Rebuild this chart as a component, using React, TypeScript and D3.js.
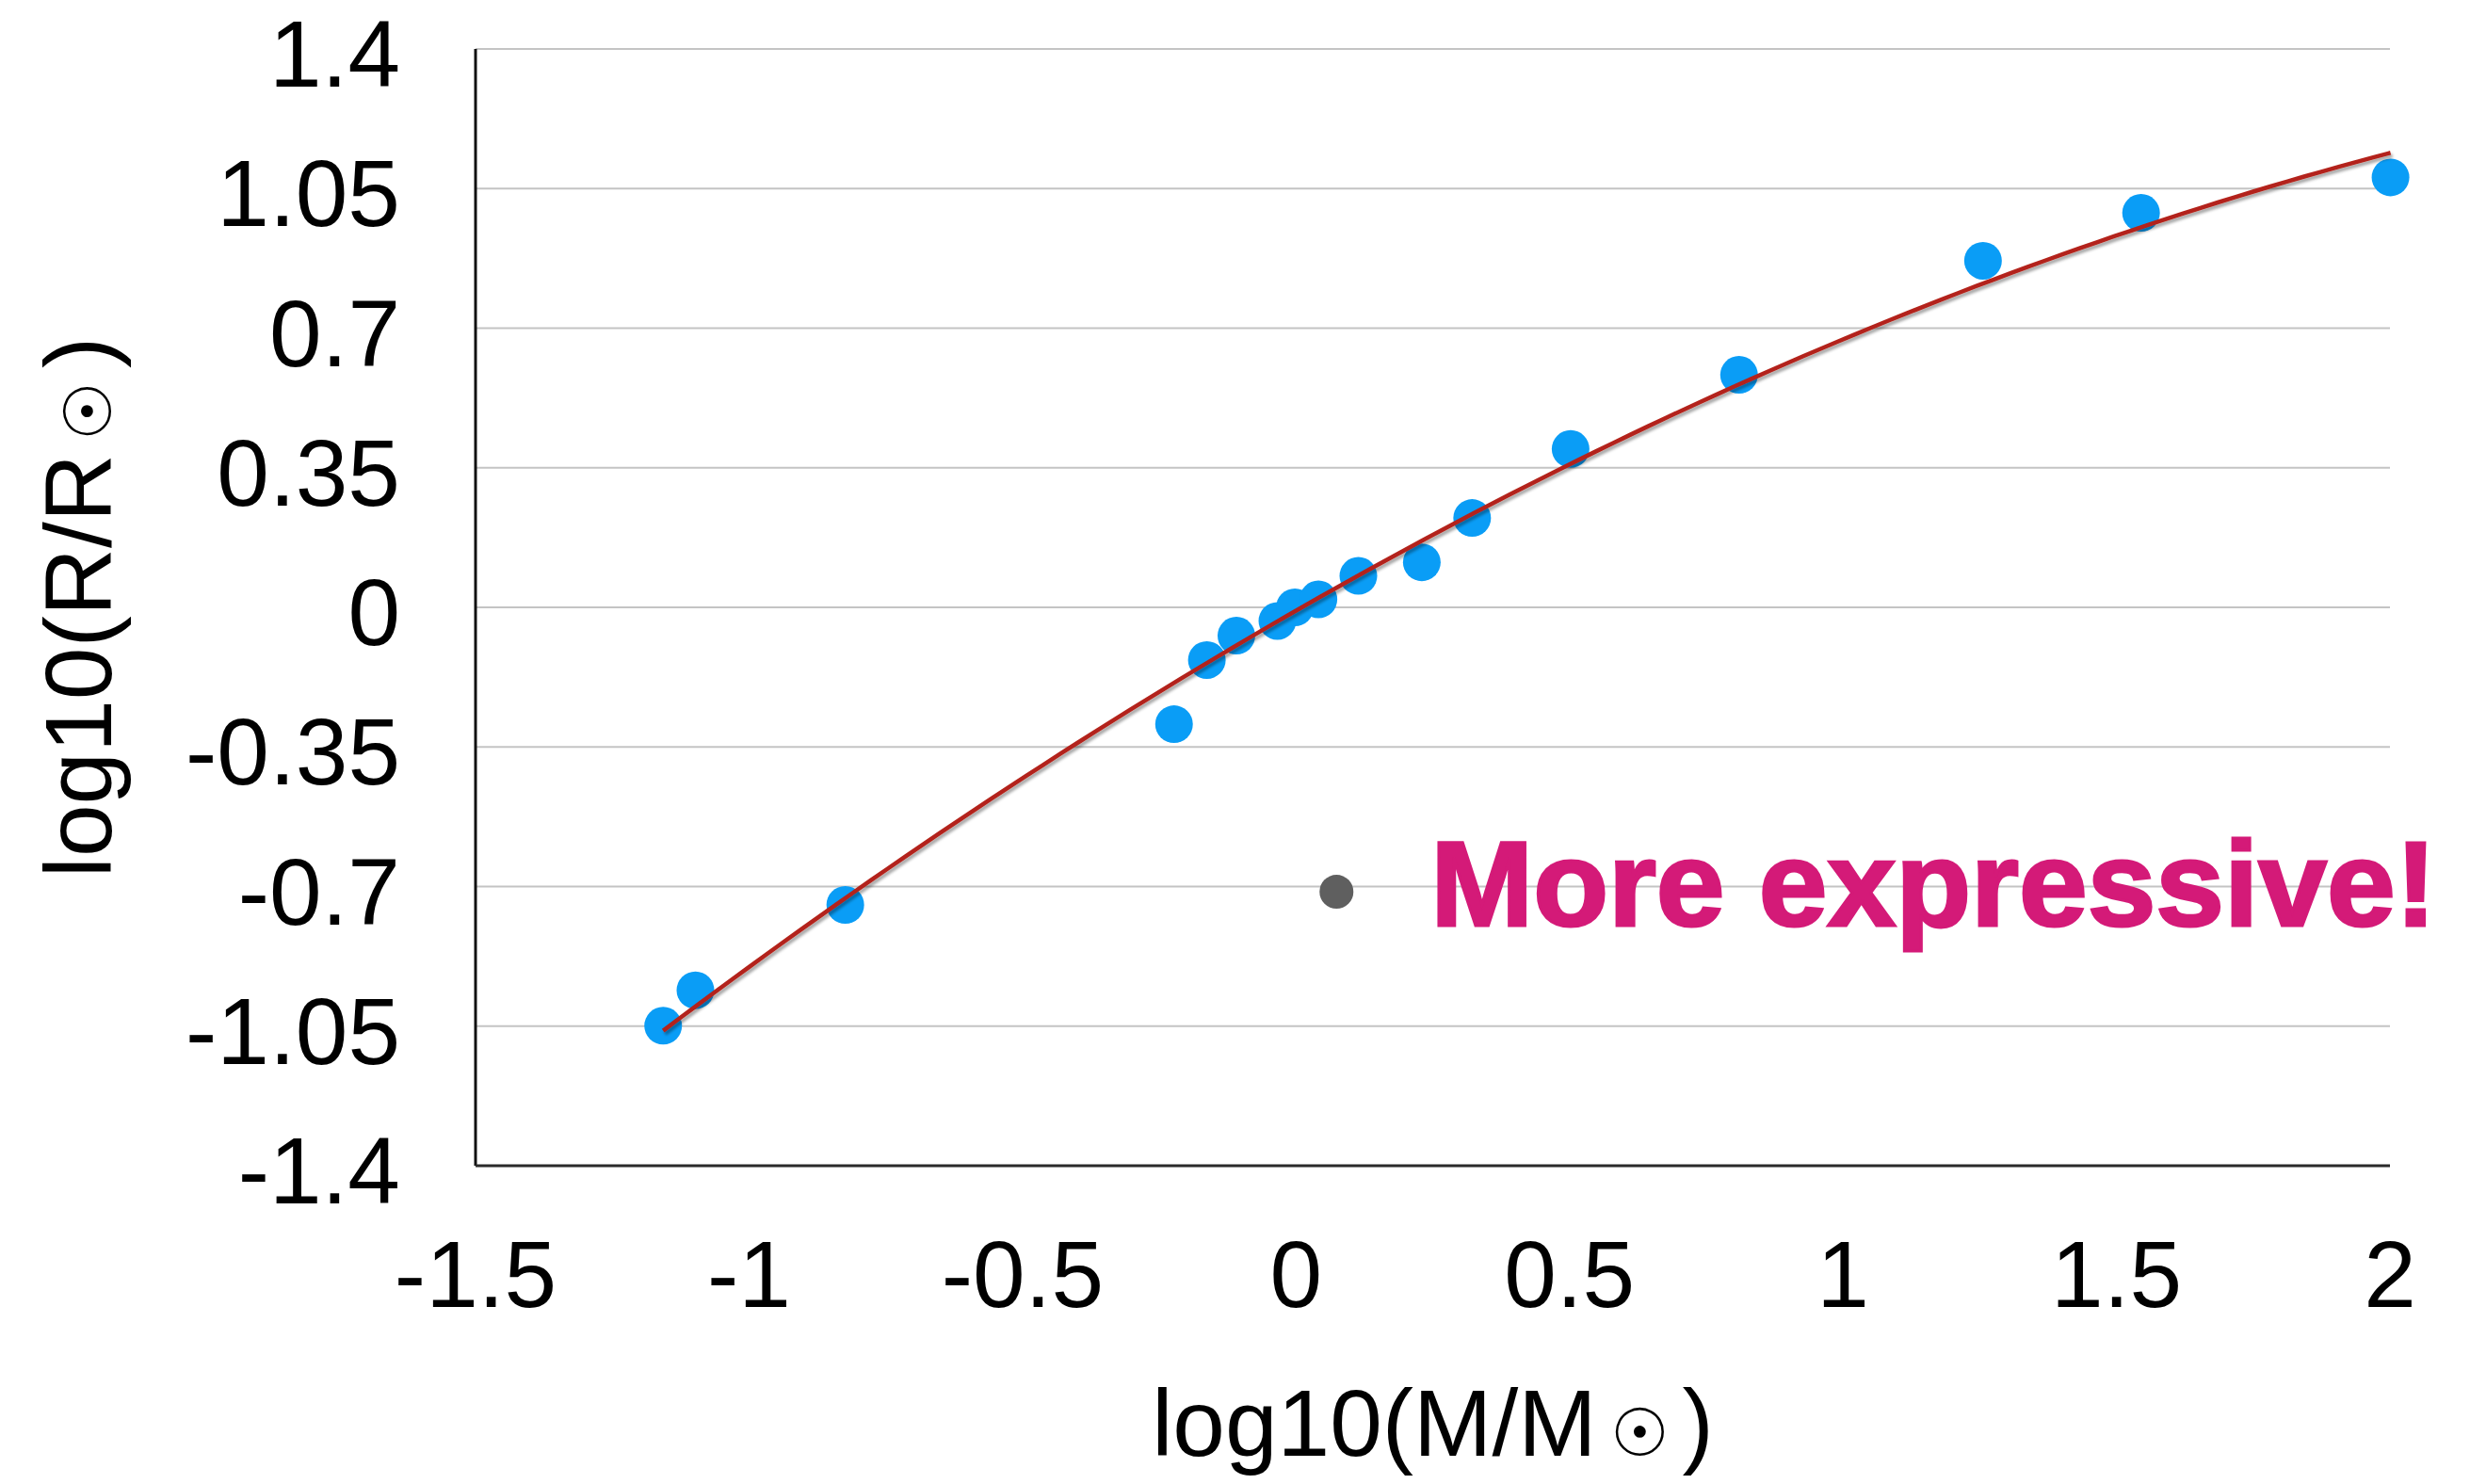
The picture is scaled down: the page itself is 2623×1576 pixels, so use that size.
import React from 'react';
import * as d3 from 'd3';

// log10 mass / radius (solar units)
const massLog = [-1.157, -1.098, -0.824, -0.223, -0.163, -0.109, -0.034, -0.002, 0.041, 0.114, 0.230, 0.322, 0.502, 0.810, 1.256, 1.545, 2.001];
const radiusLog = [-1.049, -0.960, -0.746, -0.293, -0.132, -0.071, -0.034, 0.000, 0.020, 0.079, 0.113, 0.224, 0.397, 0.583, 0.869, 0.989, 1.078];

const xTicks = [-1.5, -1, -0.5, 0, 0.5, 1, 1.5, 2];
const yTicks = [1.4, 1.05, 0.7, 0.35, 0, -0.35, -0.7, -1.05, -1.4];

const markerPoint = { x: 0.074, y: -0.713 };
const markerText = 'More expressive!';

// least squares quadratic (the trendline)
function quadFit(xs: number[], ys: number[]) {
  const s = [0, 0, 0, 0, 0];
  const t = [0, 0, 0];
  xs.forEach((x, i) => {
    for (let k = 0; k < 5; k++) s[k] += Math.pow(x, k);
    for (let k = 0; k < 3; k++) t[k] += Math.pow(x, k) * ys[i];
  });
  const m = [
    [s[0], s[1], s[2], t[0]],
    [s[1], s[2], s[3], t[1]],
    [s[2], s[3], s[4], t[2]],
  ];
  for (let i = 0; i < 3; i++) {
    for (let j = i + 1; j < 3; j++) {
      const f = m[j][i] / m[i][i];
      for (let k = i; k < 4; k++) m[j][k] -= f * m[i][k];
    }
  }
  const c = [0, 0, 0];
  for (let i = 2; i >= 0; i--) {
    let v = m[i][3];
    for (let k = i + 1; k < 3; k++) v -= m[i][k] * c[k];
    c[i] = v / m[i][i];
  }
  return (x: number) => c[0] + c[1] * x + c[2] * x * x;
}

const FONT = '"Liberation Sans", Arial, Helvetica, sans-serif';

export default function App() {
  const width = 2623;
  const height = 1576;
  const margin = { top: 52, right: 85, bottom: 338, left: 505 };
  const innerW = width - margin.left - margin.right;
  const innerH = height - margin.top - margin.bottom;

  const x = d3.scaleLinear().domain([-1.5, 2]).range([0, innerW]);
  const y = d3.scaleLinear().domain([-1.4, 1.4]).range([innerH, 0]);

  const fit = quadFit(massLog, radiusLog);
  const x0 = d3.min(massLog) as number;
  const x1 = d3.max(massLog) as number;
  const fitPts = d3.range(0, 101).map(i => {
    const xv = x0 + (x1 - x0) * i / 100;
    return [xv, fit(xv)] as [number, number];
  });
  const line = d3.line<[number, number]>()
    .x(d => x(d[0]))
    .y(d => y(d[1]))
    .curve(d3.curveMonotoneX);

  return (
    <div>
      <style>{'body{margin:0;background:#fff}'}</style>
      <svg width={width} height={height} style={{ display: 'block', fontFamily: FONT }}>
        <defs>
          <filter id="shadow" x="-10%" y="-10%" width="120%" height="130%">
            <feDropShadow dx="2" dy="3" stdDeviation="1.5" floodColor="#000" floodOpacity="0.35" />
          </filter>
        </defs>
        <rect width={width} height={height} fill="#fff" />
        <g transform={`translate(${margin.left},${margin.top})`}>
          {/* gridlines */}
          {yTicks.map(t => (
            <line key={'g' + t} x1={0} x2={innerW} y1={y(t)} y2={y(t)} stroke="#c4c4c4" strokeWidth={2.2} />
          ))}
          {/* axes */}
          <line x1={0} x2={0} y1={y(1.4)} y2={innerH} stroke="#111" strokeWidth={3} />
          <line x1={0} x2={innerW} y1={innerH} y2={innerH} stroke="#2a2a2a" strokeWidth={3} />

          {/* y tick labels */}
          {yTicks.map(t => (
            <text key={'y' + t} x={-80} y={y(t) + 40} textAnchor="end" fontSize={100} fill="#000">
              {String(t)}
            </text>
          ))}
          {/* x tick labels */}
          {xTicks.map(t => (
            <text key={'x' + t} x={x(t)} y={innerH + 150} textAnchor="middle" fontSize={100} fill="#000">
              {String(t)}
            </text>
          ))}

          {/* points */}
          {massLog.map((m, i) => (
            <circle key={'p' + i} cx={x(m)} cy={y(radiusLog[i])} r={20} fill="#0a9df6" />
          ))}

          {/* trendline */}
          <path d={line(fitPts) || ''} fill="none" stroke="#b3241a" strokeWidth={4.5} filter="url(#shadow)" />

          {/* annotation */}
          <circle cx={x(markerPoint.x)} cy={y(markerPoint.y)} r={18} fill="#5f5f5f" />
          <text
            x={x(markerPoint.x) + 100}
            y={y(markerPoint.y) + 36}
            fontSize={128}
            fontWeight="bold"
            fill="#d41a78"
            stroke="#d41a78"
            strokeWidth={3}
            textLength={1068}
            lengthAdjust="spacingAndGlyphs"
          >
            {markerText}
          </text>
        </g>

        {/* axis titles */}
        <text x={margin.left + innerW / 2} y={1546} textAnchor="middle" fontSize={100} fill="#000">
          log10(M/M<tspan fontSize={70}>{'\u2009\u2609\u2009'}</tspan>)
        </text>
        <text
          transform={`translate(118,${margin.top + innerH / 2}) rotate(-90)`}
          textAnchor="middle"
          fontSize={100}
          fill="#000"
        >
          log10(R/R<tspan fontSize={70}>{'\u2009\u2609\u2009'}</tspan>)
        </text>
      </svg>
    </div>
  );
}
